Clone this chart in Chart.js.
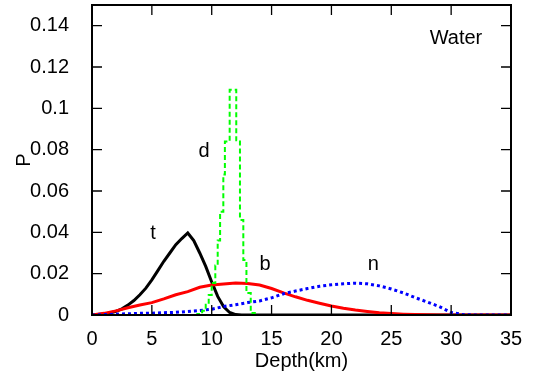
<!DOCTYPE html>
<html>
<head>
<meta charset="utf-8">
<script src="https://cdn.jsdelivr.net/npm/chart.js@4.4.1/dist/chart.umd.min.js"></script>
<style>
  html, body { margin: 0; padding: 0; background: #fff; }
  #wrap { width: 534px; height: 371px; }
</style>
</head>
<body>
<div id="wrap"><canvas id="c"></canvas></div>
<script>
// depth grids (km)
const depthKm = [0,1,2,3,4,5,6,7,8,9,10,11,12,13,14,15,16,17,18,19,20,21,22,23,24,25,26,27,28,29,30,31,32,33,34,35];
const depthT = [0,0.5,1,1.5,2,2.5,3,3.5,4,4.5,5,5.5,6,6.5,7,7.5,8,8.5,9,9.5,10,10.5,11,11.5,12,12.5,35];
const depthD = [0,8.8,9.2,9.5,9.75,10,10.3,10.5,10.7,10.97,11.1,11.5,12.05,12.36,12.64,12.9,13.26,13.6,35];

// probabilities
const probT = [0,0.0002,0.0005,0.001,0.0018,0.003,0.0048,0.007,0.0098,0.013,0.017,0.0215,0.026,0.030,0.034,0.037,0.0397,0.036,0.030,0.0235,0.016,0.009,0.004,0.0012,0.0002,0,0];
const probD = [0,0.0005,0.002,0.005,0.0097,0.0155,0.024,0.036,0.05,0.068,0.084,0.109,0.0845,0.046,0.0266,0.0106,0.001,0,0];
const probB = [0,0.0008,0.002,0.0035,0.0048,0.006,0.0078,0.0098,0.0113,0.0134,0.0145,0.015,0.0155,0.0152,0.0145,0.0128,0.0107,0.0088,0.0071,0.0057,0.0044,0.0033,0.0024,0.0017,0.0011,0.0007,0.0004,0.0002,0.0001,0,0,0,0,0,0,0];
const probN = [0,0.0002,0.0004,0.0006,0.0008,0.0009,0.0011,0.0013,0.0017,0.0022,0.0028,0.0041,0.005,0.006,0.0068,0.0083,0.0103,0.0116,0.0128,0.0139,0.0146,0.0151,0.0154,0.0151,0.0141,0.0126,0.0107,0.0084,0.0063,0.0041,0.0012,0.0002,0,0,0,0];

const xTicks = [0,5,10,15,20,25,30,35];
const yTicks = [0,0.02,0.04,0.06,0.08,0.1,0.12,0.14];

const curveNames = ['t','d','b','n'];

function pairs(xs, ys) {
  return xs.map((x, i) => ({x: x, y: ys[i]}));
}

const FONT = '"Liberation Sans", Arial, Helvetica, sans-serif';

const frame = {
  id: 'frame',
  afterDatasetsDraw(chart) {
    const {ctx, chartArea: a, scales: {x, y}} = chart;
    ctx.save();
    ctx.strokeStyle = '#000';
    ctx.lineWidth = 1.3;
    ctx.beginPath();
    x.ticks.forEach(t => {
      const px = x.getPixelForValue(t.value);
      ctx.moveTo(px, a.bottom); ctx.lineTo(px, a.bottom - 10);
      ctx.moveTo(px, a.top); ctx.lineTo(px, a.top + 10);
    });
    y.ticks.forEach(t => {
      const py = y.getPixelForValue(t.value);
      ctx.moveTo(a.left, py); ctx.lineTo(a.left + 10, py);
      ctx.moveTo(a.right, py); ctx.lineTo(a.right - 10, py);
    });
    ctx.stroke();
    ctx.lineWidth = 2;
    ctx.strokeRect(a.left, a.top, a.width, a.height);

    // curve names and panel title
    ctx.fillStyle = '#000';
    ctx.font = '20px ' + FONT;
    ctx.textAlign = 'center';
    ctx.textBaseline = 'middle';
    const spots = [[5.1, 0.0396], [9.36, 0.079], [14.45, 0.0246], [23.5, 0.0246]];
    curveNames.forEach((n, i) => {
      ctx.fillText(n, x.getPixelForValue(spots[i][0]), y.getPixelForValue(spots[i][1]));
    });
    ctx.fillText('Water', x.getPixelForValue(30.4), y.getPixelForValue(0.1338));
    ctx.restore();
  }
};

new Chart(document.getElementById('c'), {
  type: 'line',
  data: {
    datasets: [
      { label: 't', data: pairs(depthT, probT), borderColor: '#000000', borderWidth: 3, order: 4 },
      { label: 'b', data: pairs(depthKm, probB), borderColor: '#ff0000', borderWidth: 3, order: 3 },
      { label: 'n', data: pairs(depthKm, probN), borderColor: '#0000ff', borderWidth: 3, borderDash: [3, 3], order: 2 },
      { label: 'd', data: pairs(depthD, probD), borderColor: '#00ff00', borderWidth: 2, borderDash: [5, 3], stepped: 'before', order: 1 }
    ]
  },
  options: {
    responsive: true,
    maintainAspectRatio: false,
    animation: false,
    events: [],
    layout: { padding: { left: 0, top: 5, right: 23, bottom: 0 } },
    elements: { point: { radius: 0 }, line: { tension: 0 } },
    plugins: { legend: { display: false }, tooltip: { enabled: false } },
    scales: {
      x: {
        type: 'linear',
        min: 0, max: 35,
        grid: { display: false },
        border: { display: false },
        afterBuildTicks: s => { s.ticks = xTicks.map(v => ({value: v})); },
        afterFit: s => { s.height = 56; s.paddingLeft = 0; s.paddingRight = 0; },
        ticks: { color: '#000', font: { family: FONT, size: 20 }, padding: 4, maxRotation: 0 },
        title: { display: true, text: 'Depth(km)', color: '#000', font: { family: FONT, size: 20, lineHeight: 1 }, padding: { top: 0, bottom: 0 } }
      },
      y: {
        type: 'linear',
        min: 0, max: 0.15,
        grid: { display: false },
        border: { display: false },
        afterBuildTicks: s => { s.ticks = yTicks.map(v => ({value: v})); },
        afterFit: s => { s.width = 92; s.paddingTop = 0; s.paddingBottom = 0; },
        ticks: { color: '#000', font: { family: FONT, size: 20 }, padding: 15, callback: v => String(+v.toFixed(2)) },
        title: { display: true, text: 'P', color: '#000', font: { family: FONT, size: 20, lineHeight: 1 }, padding: { top: 14, bottom: 0 } }
      }
    }
  },
  plugins: [frame]
});
</script>
</body>
</html>
